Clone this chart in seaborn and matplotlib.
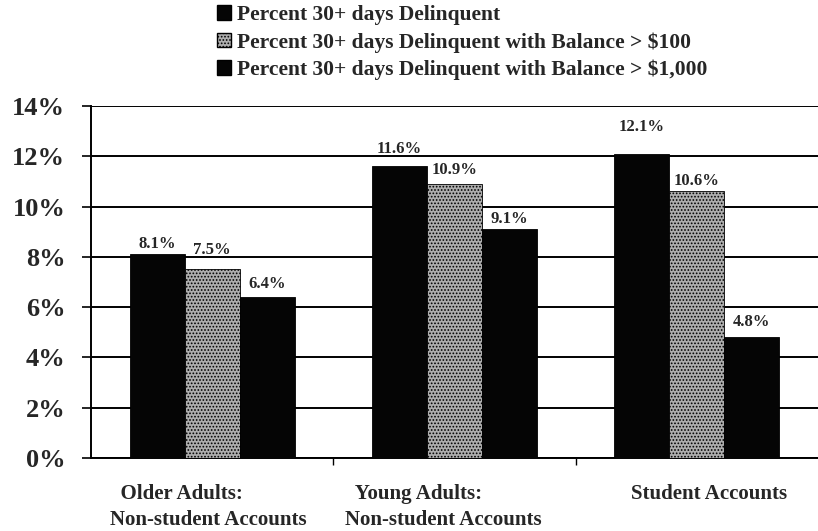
import matplotlib
matplotlib.use("Agg")
import matplotlib.pyplot as plt
import seaborn as sns
import pandas as pd
from matplotlib.patches import Patch

categories = ["  Older Adults:\nNon-student Accounts",
              "  Young Adults:\nNon-student Accounts",
              "Student Accounts"]
series = ["Percent 30+ days Delinquent",
          "Percent 30+ days Delinquent with Balance > $100",
          "Percent 30+ days Delinquent with Balance > $1,000"]
v_all = [8.1, 11.6, 12.1]
v_100 = [7.5, 10.9, 10.6]
v_1000 = [6.4, 9.1, 4.8]
yticks = [0, 2, 4, 6, 8, 10, 12, 14]

# label gaps above bars (points), per series, as placed in the original
label_pad = [[2, 7, 13.5], [8.5, 4, 2], [4, 1.5, 5]]

rows = []
for s, vals in zip(series, [v_all, v_100, v_1000]):
    for c, v in zip(categories, vals):
        rows.append({"cat": c, "series": s, "value": v})
df = pd.DataFrame(rows)

sns.set_style("white")
plt.rcParams['font.family'] = ['Liberation Serif', 'DejaVu Serif']
plt.rcParams['font.weight'] = 'bold'
plt.rcParams['hatch.color'] = '#606060'
plt.rcParams['hatch.linewidth'] = 0.8

fig = plt.figure(figsize=(8.18, 5.31), dpi=100)
ax = fig.add_axes([91/818, 1 - 458/531, 1 - 91/818, (458 - 106)/531])

colors = ["#050505", "#aeaeae", "#050505"]
sns.barplot(data=df, x="cat", y="value", hue="series", order=categories,
            hue_order=series, palette=colors, width=0.68, gap=0,
            saturation=1, ax=ax, legend=False, edgecolor="black", linewidth=0.6,
            zorder=3)

for i, cont in enumerate(ax.containers):
    for j, (p, v) in enumerate(zip(cont, cont.datavalues)):
        if i == 1:
            p.set_hatch('.....')
        ax.annotate(f"{v:.1f}%", (p.get_x() + p.get_width() / 2, p.get_height()),
                    xytext=(0, label_pad[i][j]), textcoords='offset points',
                    ha='center', va='bottom', fontsize=12, fontweight='bold')

ax.set_ylim(0, 14)
ax.set_xlim(-0.5, 2.5)
ax.set_yticks(yticks)
ax.set_yticklabels([f"{t}%" for t in yticks], fontsize=19, fontweight='bold')
ax.yaxis.grid(True, color='black', linewidth=1.4, zorder=0)
ax.set_axisbelow(True)
ax.tick_params(axis='y', length=6.5, width=1.2, color='black', pad=12, left=True)
ax.set_xticks([-0.014, 0.955, 2.05], categories)
ax.tick_params(axis='x', which='major', length=0, pad=19, labelsize=15)
ax.set_xticks([0.5, 1.5], minor=True)
ax.tick_params(axis='x', which='minor', length=5, width=1, color='black', bottom=True)
for lbl in ax.get_xticklabels():
    lbl.set_multialignment('left')
    lbl.set_fontweight('bold')
    lbl.set_linespacing(1.4)
ax.set_xlabel("")
ax.set_ylabel("")
for side in ["top", "right"]:
    ax.spines[side].set_visible(False)
for side in ["left", "bottom"]:
    ax.spines[side].set_color('black')
    ax.spines[side].set_linewidth(1.4)

handles = [Patch(facecolor=colors[0], edgecolor='black'),
           Patch(facecolor=colors[1], edgecolor='black', hatch='.....'),
           Patch(facecolor=colors[2], edgecolor='black')]
fig.legend(handles, series, loc='upper left', bbox_to_anchor=(217/818, 1 - 5/531),
           frameon=False, borderpad=0, borderaxespad=0, handlelength=0.65,
           handleheight=0.65, handletextpad=0.3, labelspacing=0.33,
           prop={'family': 'Liberation Serif', 'weight': 'bold', 'size': 15.5})

fig.savefig("out.png", dpi=100)
